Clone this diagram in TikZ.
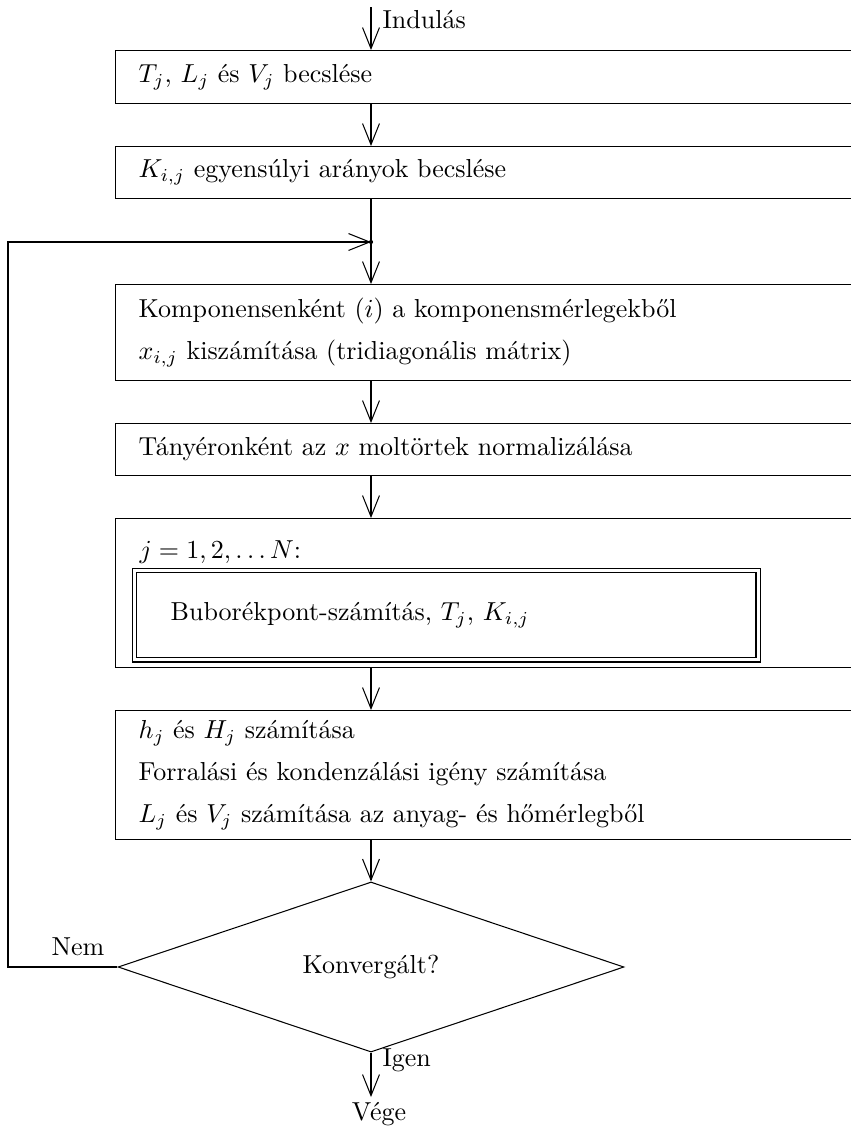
\documentclass[tikz,border=0pt]{standalone}
\usetikzlibrary{arrows.meta,shapes.geometric}
\begin{document}
\begin{tikzpicture}[x=0.3846pt,y=-0.3846pt,
  flow/.style={-{Straight Barb[length=8.1pt,width=6.5pt]}},
  stepbox/.style={draw, rectangle, anchor=north west, text width=290pt,
    inner xsep=8.85pt, inner ysep=0pt, align=left,
    font=\linespread{1.346}\selectfont},
  subbox/.style={draw, double, double distance=1.15pt, anchor=north west,
    minimum width=239.8pt, minimum height=34.4pt, text width=212pt,
    inner xsep=13.8pt, inner ysep=0pt, align=left},
  decision/.style={diamond, draw, minimum width=194.6pt,
    minimum height=65.4pt, inner sep=0pt},
  tag/.style={inner sep=0pt}]
\clip (0,0) rectangle (851,1132);

% reference points of the main column and the return path
\coordinate (col) at (371,0);
\coordinate (start) at (371,7);
\coordinate (junc) at (371,242);
\coordinate (loopx) at (8,0);
\coordinate (finish) at (371,1097);

% process steps
\node[stepbox, minimum height=20.4pt] (b1) at (115,50) {$T_j$, $L_j$ és $V_j$ becslése};
\node[stepbox, minimum height=20pt] (b2) at (115,146) {$K_{i,j}$ egyensúlyi arányok becslése};
\node[stepbox, minimum height=36.9pt] (b3) at (115,284)
  {Komponensenként $(i)$ a komponensmérlegekből\\
   $x_{i,j}$ kiszámítása (tridiagonális mátrix)};
\node[stepbox, minimum height=20pt] (b4) at (115,423) {Tányéronként az $x$ moltörtek normalizálása};
\node[stepbox, minimum height=57.3pt] (b5) at (115,518) {};
\node[tag, anchor=base west] (jlbl) at (139,558) {$j = 1, 2, \ldots N$:};
\node[subbox] (bub) at (134,570) {Buborékpont-számítás, $T_j$, $K_{i,j}$};
\node[stepbox, minimum height=49.6pt] (b6) at (115,710)
  {$h_j$ és $H_j$ számítása\\
   Forralási és kondenzálási igény számítása\\
   $L_j$ és $V_j$ számítása az anyag- és hőmérlegből};
\node[decision] (conv) at (371,967) {Konvergált?};

% labels
\node[tag, anchor=base west] (inlbl) at (382,28) {Indulás};
\node[tag, anchor=base west] (yeslbl) at (382,1066) {Igen};
\node[tag, anchor=base] (endlbl) at (379,1120) {Vége};
\node[tag, anchor=base] (nolbl) at (78,955) {Nem};

% connectors
\draw[flow] (start) -- (b1.north -| col);
\draw[flow] (b1.south -| col) -- (b2.north -| col);
\draw (b2.south -| col) -- (junc);
\draw[flow] (junc) -- (b3.north -| col);
\draw[flow] (b3.south -| col) -- (b4.north -| col);
\draw[flow] (b4.south -| col) -- (b5.north -| col);
\draw[flow] (b5.south -| col) -- (b6.north -| col);
\draw[flow] (b6.south -| col) -- (conv.north);
\draw[flow] (conv.south) -- (finish);
\draw[flow] (conv.west) -- (conv.west -| loopx) |- (junc);
\fill (junc) circle[radius=0.8pt];
\end{tikzpicture}
\end{document}
